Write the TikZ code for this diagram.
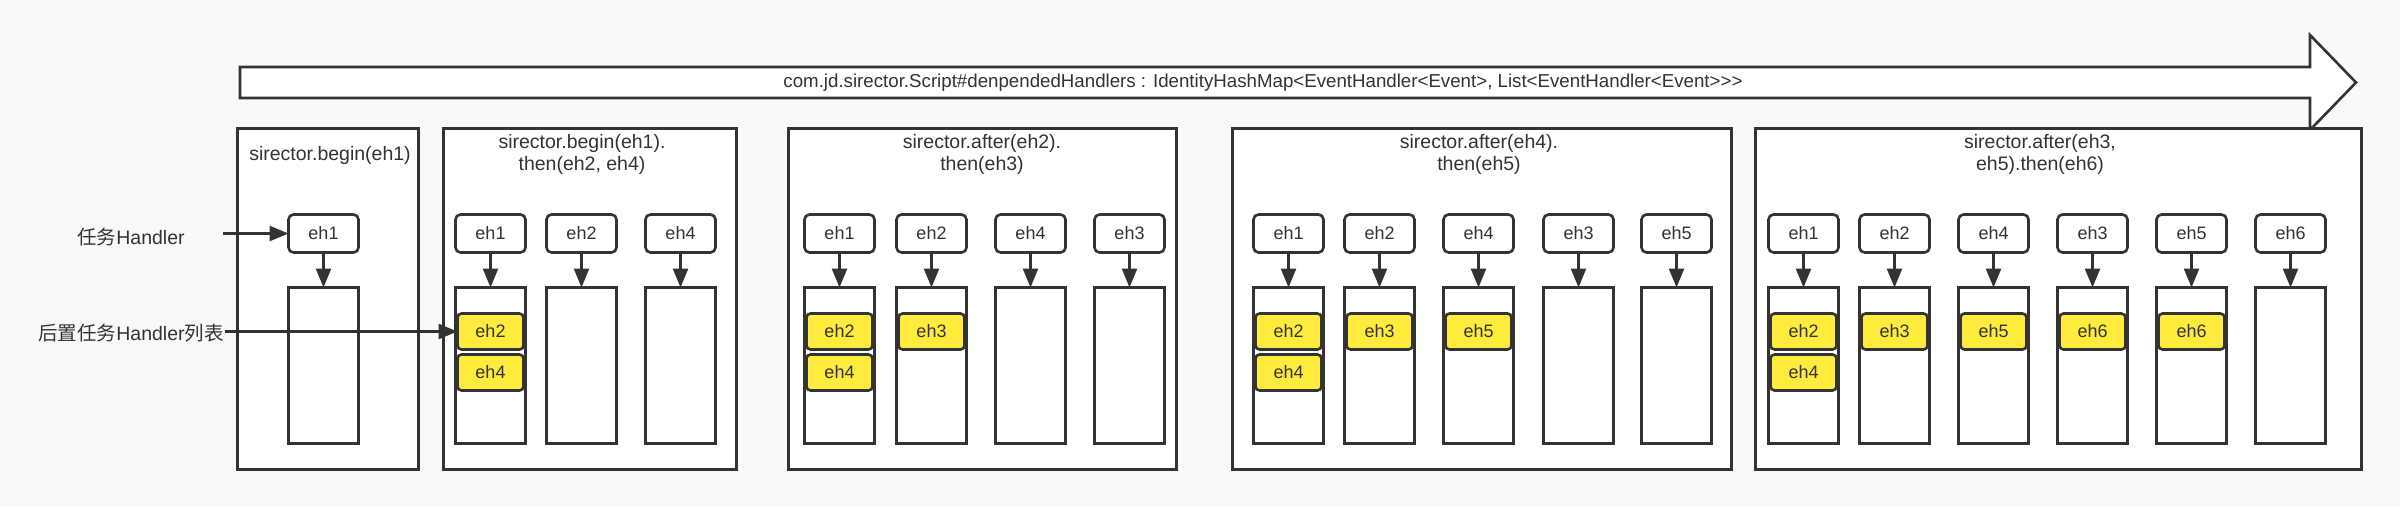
\documentclass[tikz,border=0pt]{standalone}
\usepackage{fontspec}
\setmainfont[Ligatures=TeXOff]{Liberation Sans}
\newfontfamily\cjk{Noto Sans CJK SC}
\usetikzlibrary{positioning,arrows.meta}
\definecolor{ink}{HTML}{333333}
\definecolor{hl}{HTML}{FFEB3B}
\definecolor{bg}{HTML}{F9F9F9}

\tikzset{
  handler/.style={draw=ink, line width=2.6pt, fill=white, rounded corners=5pt,
    minimum width=70pt, minimum height=38pt, inner sep=0pt, outer sep=0pt,
    text=ink, font=\fontsize{18}{22}\selectfont},
  listbox/.style={draw=ink, line width=2.6pt, fill=white, minimum width=70pt,
    minimum height=156pt, inner sep=0pt, outer sep=0pt},
  item/.style={handler, fill=hl, minimum width=66pt, minimum height=36pt, rounded corners=4pt},
  frame/.style={draw=ink, line width=2.6pt, fill=white, minimum height=341pt,
    inner sep=0pt, outer sep=0pt},
  title/.style={text=ink, align=center, inner sep=1pt, font=\fontsize{19.5}{22}\selectfont},
  flow/.style={draw=ink, line width=2.6pt, -{Triangle[length=19pt,width=15pt]}},
}

\begin{document}
\begin{tikzpicture}[x=1pt, y=-1pt]
    \fill[bg] (0,0) rectangle (2400,507);
    \useasboundingbox (0,0) rectangle (2400,507);

    % Map arrow
    \draw[ink, line width=2.6pt, fill=white] (240,67) -- (2310,67) -- (2310,35) -- (2356,82.5)
        -- (2310,130) -- (2310,98) -- (240,98) -- cycle;
    \node[title, font=\fontsize{18.7}{20}\selectfont] (map) at (1263,83)
        {com.jd.sirector.Script\#denpendedHandlers : IdentityHashMap<EventHandler<Event>, List<EventHandler<Event>>>};

    % Box 1
    \node[frame, minimum width=181pt] (b1) at (328,299) {};
    \node[title] (t1) at (330,155) {sirector.begin(eh1)};
    \node[handler] (b1h1) at (323.5,233.5) {eh1};
    \node[listbox] (b1l1) at (323.5,365.5) {};
    \draw[flow] (b1h1) -- (b1l1);

    % Box 2
    \node[frame, minimum width=293pt] (b2) at (590,299) {};
    \node[title] (t2) at (582,154) {sirector.begin(eh1).\\then(eh2, eh4)};
    \foreach \x/\n/\t in {490.5/1/eh1, 581.5/2/eh2, 680.5/3/eh4} {
        \node[handler] (b2h\n) at (\x,233.5) {\t};
        \node[listbox] (b2l\n) at (\x,365.5) {};
        \draw[flow] (b2h\n) -- (b2l\n);
    }
    \node[item, below=26pt of b2l1.north] (b2i1) {eh2};
    \node[item, below=5pt of b2i1] (b2i2) {eh4};

    % Box 3
    \node[frame, minimum width=388pt] (b3) at (982.5,299) {};
    \node[title] (t3) at (982,154) {sirector.after(eh2).\\then(eh3)};
    \foreach \x/\n/\t in {839.5/1/eh1, 931.5/2/eh2, 1030.5/3/eh4, 1129.5/4/eh3} {
        \node[handler] (b3h\n) at (\x,233.5) {\t};
        \node[listbox] (b3l\n) at (\x,365.5) {};
        \draw[flow] (b3h\n) -- (b3l\n);
    }
    \node[item, below=26pt of b3l1.north] (b3i1) {eh2};
    \node[item, below=5pt of b3i1] (b3i2) {eh4};
    \node[item, below=26pt of b3l2.north] (b3i3) {eh3};

    % Box 4
    \node[frame, minimum width=499pt] (b4) at (1482,299) {};
    \node[title] (t4) at (1479,154) {sirector.after(eh4).\\then(eh5)};
    \foreach \x/\n/\t in {1288.5/1/eh1, 1379.5/2/eh2, 1478.5/3/eh4, 1578.5/4/eh3, 1676.5/5/eh5} {
        \node[handler] (b4h\n) at (\x,233.5) {\t};
        \node[listbox] (b4l\n) at (\x,365.5) {};
        \draw[flow] (b4h\n) -- (b4l\n);
    }
    \node[item, below=26pt of b4l1.north] (b4i1) {eh2};
    \node[item, below=5pt of b4i1] (b4i2) {eh4};
    \node[item, below=26pt of b4l2.north] (b4i3) {eh3};
    \node[item, below=26pt of b4l3.north] (b4i4) {eh5};

    % Box 5
    \node[frame, minimum width=606pt] (b5) at (2058.5,299) {};
    \node[title] (t5) at (2040,154) {sirector.after(eh3,\\eh5).then(eh6)};
    \foreach \x/\n/\t in {1803.5/1/eh1, 1894.5/2/eh2, 1993.5/3/eh4, 2092.5/4/eh3, 2191.5/5/eh5, 2290.5/6/eh6} {
        \node[handler] (b5h\n) at (\x,233.5) {\t};
        \node[listbox] (b5l\n) at (\x,365.5) {};
        \draw[flow] (b5h\n) -- (b5l\n);
    }
    \node[item, below=26pt of b5l1.north] (b5i1) {eh2};
    \node[item, below=5pt of b5i1] (b5i2) {eh4};
    \node[item, below=26pt of b5l2.north] (b5i3) {eh3};
    \node[item, below=26pt of b5l3.north] (b5i4) {eh5};
    \node[item, below=26pt of b5l4.north] (b5i5) {eh6};
    \node[item, below=26pt of b5l5.north] (b5i6) {eh6};

    % Legend
    \node[title] (task) at (131,237) {{\cjk 任务}Handler};
    \coordinate (taskin) at (223,233.5);
    \draw[flow] (taskin) -- (b1h1);
    \node[title] (after) at (131,333) {{\cjk 后置任务}Handler{\cjk 列表}};
    \draw[flow] (after.east |- b2i1) -- (b2i1);
\end{tikzpicture}
\end{document}
